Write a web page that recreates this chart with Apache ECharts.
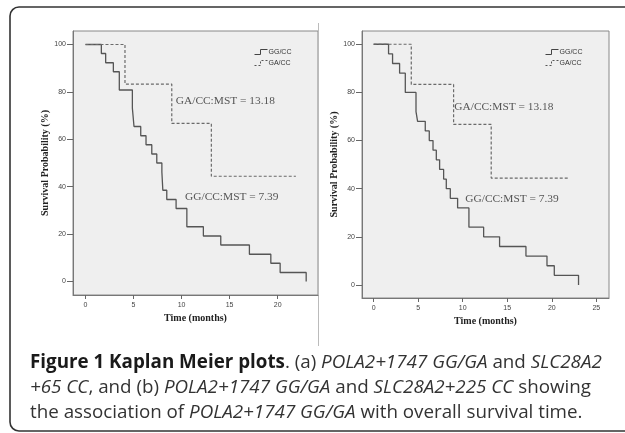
<!DOCTYPE html>
<html>
<head>
<meta charset="utf-8">
<script src="https://cdn.jsdelivr.net/npm/echarts@6/dist/echarts.min.js"></script>
<style>
  html, body { margin: 0; padding: 0; background: #fff; }
  #chart { width: 625px; height: 433px; }
</style>
</head>
<body>
<div id="chart"></div>
<script>
// ── panel (a) ──
const timeTicksA = [0, 5, 10, 15, 20];
const ggA = [[0, 100], [1.65, 96.2], [2.1, 92.3], [2.9, 88.5], [3.52, 80.8], [4.88, 73.1], [5.05, 65.4],
  [5.75, 61.5], [6.3, 57.7], [6.9, 53.8], [7.42, 50], [7.95, 46.2], [8.05, 38.5], [8.46, 34.6],
  [9.43, 30.8], [10.55, 23.1], [12.27, 19.2], [14.08, 15.4], [17.06, 11.5], [19.29, 7.7],
  [20.26, 3.8], [22.97, 0]];
const gaA = [[0, 100], [4.11, 83.3], [8.98, 66.7], [13.1, 44.4], [21.9, 44.4]];

// ── panel (b) ──
const timeTicksB = [0, 5, 10, 15, 20, 25];
const ggB = [[0, 100], [1.68, 96], [2.13, 92], [2.92, 88], [3.56, 80], [4.76, 72], [4.94, 68],
  [5.8, 64], [6.25, 60], [6.67, 56], [7.04, 52], [7.41, 48], [7.86, 44], [8.16, 40], [8.61, 36],
  [9.43, 32], [10.7, 24], [12.35, 20], [14.14, 16], [17.1, 12], [19.46, 8], [20.28, 4], [23.0, 0]];
const gaB = [[0, 100], [4.23, 83.3], [8.98, 66.7], [13.2, 44.4], [22.0, 44.4]];

const probTicks = [0, 20, 40, 60, 80, 100];
const groups = ["GG/CC", "GA/CC"];
const mstLabels = ["GG/CC:MST = 7.39", "GA/CC:MST = 13.18"];
const labelPosA = [[10.36, 35.5], [9.4, 76.3]];
const labelPosB = [[10.29, 35.6], [9.06, 73.8]];

const serif = "'Liberation Serif', 'DejaVu Serif', serif";
const sans = "'Liberation Sans', Arial, sans-serif";
const capFont = "'Open Sans', 'Noto Sans', sans-serif";
const capSize = 18.8;

function xAxisFor(idx, min, max, ticks){
  return {
    gridIndex: idx, type: "value", min, max,
    name: "Time (months)", nameLocation: "middle", nameGap: 18,
    nameTextStyle: { fontFamily: serif, fontWeight: "bold", fontSize: 10, color: "#222" },
    axisLine: { show: true, onZero: false, lineStyle: { color: "#777" } },
    axisTick: { show: true, length: 4, customValues: ticks, lineStyle: { color: "#666" } },
    axisLabel: { customValues: ticks, fontFamily: sans, fontSize: 7, color: "#444", margin: 7 },
    splitLine: { show: false }
  };
}
function yAxisFor(idx, min, max){
  return {
    gridIndex: idx, type: "value", min, max,
    name: "Survival Probability (%)", nameLocation: "middle", nameRotate: 90, nameGap: 17,
    nameTextStyle: { fontFamily: serif, fontWeight: "bold", fontSize: 10, color: "#222" },
    axisLine: { show: true, onZero: false, lineStyle: { color: "#777" } },
    axisTick: { show: true, length: 6, customValues: probTicks, lineStyle: { color: "#666" } },
    axisLabel: { customValues: probTicks, fontFamily: sans, fontSize: 7, color: "#444", margin: 7 },
    splitLine: { show: false }
  };
}
function mst(pos, text){
  return {
    silent: true, symbol: "circle", symbolSize: 0,
    label: { show: true, position: "right", distance: 0, formatter: text,
      fontFamily: serif, fontSize: 11.4, color: "#555" },
    data: [{ coord: pos }]
  };
}
function kmSeries(idx, gg, ga, lp){
  return [
    { name: groups[0], type: "line", step: "end", xAxisIndex: idx, yAxisIndex: idx, data: gg,
      showSymbol: false, symbol: "none", animation: false,
      lineStyle: { color: "#555", width: 1.3 }, itemStyle: { color: "#555" },
      markPoint: mst(lp[0], mstLabels[0]) },
    { name: groups[1], type: "line", step: "end", xAxisIndex: idx, yAxisIndex: idx, data: ga,
      showSymbol: false, symbol: "none", animation: false,
      lineStyle: { color: "#6a6a6a", width: 1.2, type: [3, 2] }, itemStyle: { color: "#6a6a6a" },
      markPoint: mst(lp[1], mstLabels[1]) }
  ];
}
function legendAt(left, top){
  return {
    left, top, orient: "vertical", itemGap: 1, itemWidth: 13, itemHeight: 6, padding: 0,
    selectedMode: false,
    textStyle: { fontFamily: sans, fontSize: 7, lineHeight: 9, color: "#333", padding: [0, 0, 0, -4] },
    data: [
      { name: groups[0], icon: "path://M0,6L6,6L6,1L13,1",
        itemStyle: { color: "none", borderColor: "#444", borderWidth: 1 } },
      { name: groups[1], icon: "path://M0,6L6,6L6,1L13,1",
        itemStyle: { color: "none", borderColor: "#555", borderWidth: 1, borderType: [2, 2] } }
    ]
  };
}

const chart = echarts.init(document.getElementById("chart"));
chart.setOption({
  animation: false,
  grid: [
    { left: 73, top: 31, width: 245, height: 264, show: true, backgroundColor: "#efefef",
      borderColor: "#888", borderWidth: 1 },
    { left: 362, top: 31, width: 247, height: 267, show: true, backgroundColor: "#efefef",
      borderColor: "#888", borderWidth: 1 }
  ],
  xAxis: [xAxisFor(0, -1.3, 24.2, timeTicksA), xAxisFor(1, -1.3, 26.42, timeTicksB)],
  yAxis: [yAxisFor(0, -5.7, 105.7), yAxisFor(1, -5.4, 105.5)],
  legend: [legendAt(252, 47), legendAt(543, 47)],
  series: [...kmSeries(0, ggA, gaA, labelPosA), ...kmSeries(1, ggB, gaB, labelPosB)],
  graphic: [
    { type: "rect", shape: { x: 10, y: 7, width: 640, height: 424, r: 9 },
      style: { fill: "none", stroke: "#333", lineWidth: 1.6 }, silent: true },
    { type: "line", shape: { x1: 318.5, y1: 23, x2: 318.5, y2: 346 },
      style: { stroke: "#bbb", lineWidth: 1 }, silent: true },
    { type: "text", left: 30, top: 353, silent: true,
      style: {
        text: "{b|Figure 1 Kaplan Meier plots}. (a) {i|POLA2+1747 GG/GA} and {i|SLC28A2}",
        font: capSize + "px " + capFont, fill: "#333",
        rich: { b: { fontWeight: "bold", fontSize: capSize, fontFamily: capFont, fill: "#1a1a1a" },
                i: { fontStyle: "italic", fontSize: capSize, fontFamily: capFont } }
      } },
    { type: "text", left: 30, top: 378, silent: true,
      style: {
        text: "{i|+65 CC}, and (b) {i|POLA2+1747 GG/GA} and {i|SLC28A2+225 CC} showing",
        font: capSize + "px " + capFont, fill: "#333",
        rich: { i: { fontStyle: "italic", fontSize: capSize, fontFamily: capFont } }
      } },
    { type: "text", left: 30, top: 403, silent: true,
      style: {
        text: "the association of {i|POLA2+1747 GG/GA} with overall survival time.",
        font: capSize + "px " + capFont, fill: "#333",
        rich: { i: { fontStyle: "italic", fontSize: capSize, fontFamily: capFont } }
      } }
  ]
});
</script>
</body>
</html>
